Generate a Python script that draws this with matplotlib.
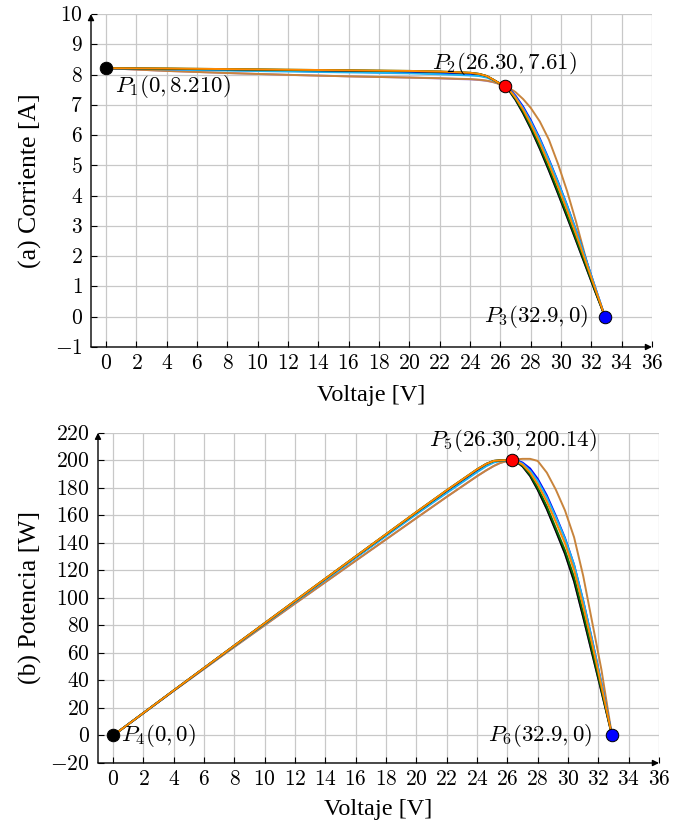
import matplotlib
matplotlib.use("Agg")
import matplotlib.pyplot as plt
from matplotlib.ticker import FuncFormatter

plt.rcParams['mathtext.fontset'] = 'cm'
plt.rcParams['font.family'] = ['Liberation Serif', 'DejaVu Serif']

# ---------------- data ----------------
voltage = [0, 4, 8, 12, 16, 20, 22, 24, 24.6, 25.1, 25.5, 25.8, 26.05, 26.3,
           26.6, 27.0, 27.5, 28.0, 28.6, 29.2, 29.8, 30.4, 31.0, 31.6, 32.2, 32.9]

# current curves [A]
i_purple = [8.21, 8.12, 8.05, 7.99, 7.94, 7.90, 7.87, 7.84, 7.82, 7.79, 7.75, 7.71, 7.66, 7.61,
            7.45, 7.16, 6.72, 6.22, 5.55, 4.83, 4.07, 3.29, 2.50, 1.70, 0.90, 0.0]
i_brown = [8.21, 8.12, 8.05, 7.99, 7.94, 7.90, 7.88, 7.85, 7.83, 7.80, 7.76, 7.71, 7.66, 7.61,
           7.55, 7.42, 7.19, 6.90, 6.45, 5.85, 5.05, 4.15, 3.12, 2.00, 0.92, 0.0]
i_blue = [8.21, 8.18, 8.15, 8.12, 8.09, 8.06, 8.03, 8.00, 7.97, 7.92, 7.83, 7.75, 7.68, 7.61,
          7.52, 7.30, 6.94, 6.50, 5.89, 5.20, 4.46, 3.68, 2.84, 1.96, 1.05, 0.0]
i_cyan = [8.21, 8.17, 8.13, 8.10, 8.07, 8.04, 8.01, 7.97, 7.95, 7.90, 7.82, 7.74, 7.68, 7.61,
          7.50, 7.26, 6.89, 6.45, 5.85, 5.17, 4.44, 3.67, 2.84, 1.96, 1.05, 0.0]
i_black = [8.21, 8.19, 8.17, 8.15, 8.13, 8.11, 8.09, 8.05, 8.02, 7.95, 7.84, 7.75, 7.68, 7.61,
           7.45, 7.16, 6.72, 6.22, 5.55, 4.83, 4.07, 3.29, 2.50, 1.70, 0.90, 0.0]
i_green = [8.21, 8.20, 8.18, 8.16, 8.14, 8.12, 8.10, 8.06, 8.02, 7.95, 7.84, 7.75, 7.68, 7.61,
           7.47, 7.19, 6.77, 6.28, 5.62, 4.91, 4.15, 3.37, 2.57, 1.76, 0.94, 0.0]
i_orange = [8.21, 8.20, 8.18, 8.16, 8.14, 8.12, 8.10, 8.06, 8.02, 7.95, 7.84, 7.75, 7.68, 7.61,
            7.49, 7.23, 6.84, 6.37, 5.74, 5.04, 4.30, 3.52, 2.71, 1.86, 1.00, 0.0]

# power curves [W]
p_purple = [0, 32.5, 64.4, 95.9, 127.0, 158.0, 173.4, 188.4, 192.6, 195.8, 197.9, 198.9, 199.5, 200.14,
            198.8, 195.5, 188.5, 178.5, 164.5, 148.5, 132.0, 112.0, 86.0, 59.0, 32.0, 0]
p_brown = [0, 32.5, 64.4, 95.9, 127.0, 158.0, 173.4, 188.4, 192.6, 195.8, 197.9, 198.9, 199.5, 200.14,
           200.6, 201.0, 201.0, 199.5, 191.0, 178.5, 163.5, 144.0, 116.0, 82.0, 48.0, 0]
p_blue = [0, 32.7, 65.2, 97.4, 129.4, 161.2, 176.7, 192.0, 196.1, 198.8, 199.7, 200.0, 200.1, 200.14,
          199.9, 198.3, 194.0, 186.5, 174.5, 159.5, 143.5, 124.0, 98.0, 69.0, 38.0, 0]
p_cyan = [0, 32.7, 65.0, 97.2, 129.1, 160.8, 176.2, 191.3, 195.6, 198.3, 199.4, 199.7, 200.1, 200.14,
          199.6, 197.5, 192.5, 185.0, 173.0, 158.5, 143.0, 124.0, 98.0, 69.0, 38.0, 0]
p_black = [0, 32.8, 65.4, 97.8, 130.1, 162.2, 178.0, 193.2, 197.3, 199.5, 199.9, 200.0, 200.1, 200.14,
           198.8, 195.5, 188.5, 178.5, 164.5, 148.5, 132.0, 112.0, 86.0, 59.0, 32.0, 0]
p_green = [0, 32.8, 65.4, 97.9, 130.2, 162.4, 178.2, 193.4, 197.3, 199.5, 199.9, 200.0, 200.1, 200.14,
           199.0, 196.0, 189.5, 180.0, 166.5, 150.5, 134.5, 115.0, 89.0, 61.5, 33.5, 0]
p_orange = [0, 32.8, 65.4, 97.9, 130.2, 162.4, 178.2, 193.4, 197.3, 199.5, 199.9, 200.0, 200.1, 200.14,
            199.3, 196.8, 191.0, 182.5, 170.0, 155.0, 139.5, 120.0, 94.0, 66.0, 36.0, 0]

colors = {'purple': '#a27bc9', 'brown': '#c8843c', 'blue': '#0000ff',
          'cyan': '#1eb4f0', 'black': '#000000', 'green': '#0b6e0b',
          'orange': '#ff8800'}

i_curves = [('purple', i_purple), ('brown', i_brown), ('blue', i_blue), ('cyan', i_cyan),
            ('black', i_black), ('green', i_green), ('orange', i_orange)]
p_curves = [('purple', p_purple), ('brown', p_brown), ('blue', p_blue), ('cyan', p_cyan),
            ('black', p_black), ('green', p_green), ('orange', p_orange)]

# key points
iv_points = [(0, 8.21, 'black'), (26.30, 7.61, 'red'), (32.9, 0, 'blue')]
pv_points = [(0, 0, 'black'), (26.30, 200.14, 'red'), (32.9, 0, 'blue')]

x_ticks = list(range(0, 37, 2))
i_ticks = list(range(-1, 11, 1))
p_ticks = list(range(-20, 221, 20))

# ---------------- figure ----------------
W, H = 678, 824
fig = plt.figure(figsize=(W / 100, H / 100), dpi=100)

ax1 = fig.add_axes([91 / W, 1 - 347 / H, (652 - 91) / W, (347 - 14) / H])
ax2 = fig.add_axes([98 / W, 1 - 763 / H, (659 - 98) / W, (763 - 432.7) / H])

fmt = FuncFormatter(lambda v, pos: r'$%g$' % v)


def style_axis(ax, xlim, ylim, yticks):
    ax.set_xlim(*xlim)
    ax.set_ylim(*ylim)
    ax.set_xticks(x_ticks)
    ax.set_yticks(yticks)
    ax.xaxis.set_major_formatter(fmt)
    ax.yaxis.set_major_formatter(fmt)
    ax.grid(True, color='#c8c8c8', linewidth=0.9)
    ax.set_axisbelow(True)
    for s in ['top', 'right', 'bottom', 'left']:
        ax.spines[s].set_visible(False)
    ax.tick_params(direction='in', length=4, width=0.8, labelsize=15.5, pad=6,
                   top=False, right=False)
    kw = dict(xycoords='axes fraction', textcoords='axes fraction',
              arrowprops=dict(arrowstyle='-|>', color='black', lw=1.0,
                              mutation_scale=9, shrinkA=0, shrinkB=0))
    ax.annotate('', xy=(1.0, 0), xytext=(0, 0), **kw)
    ax.annotate('', xy=(0, 1.0), xytext=(0, 0), **kw)


style_axis(ax1, (-1, 36), (-1, 10), i_ticks)
style_axis(ax2, (-1, 36), (-20, 220), p_ticks)

for name, vals in i_curves:
    ax1.plot(voltage, vals, color=colors[name], lw=1.4, zorder=3)
for name, vals in p_curves:
    ax2.plot(voltage, vals, color=colors[name], lw=1.4, zorder=3)

for (x, y, c) in iv_points:
    ax1.plot([x], [y], 'o', color=c, markeredgecolor='black', markeredgewidth=0.7,
             markersize=9, zorder=5, clip_on=False)
for (x, y, c) in pv_points:
    ax2.plot([x], [y], 'o', color=c, markeredgecolor='black', markeredgewidth=0.7,
             markersize=9, zorder=5, clip_on=False)

tfs = 16.5
ax1.text(0.55, 7.6, r'$P_1(0, 8.210)$', fontsize=tfs, ha='left', va='center', zorder=6)
ax1.text(26.3, 8.38, r'$P_2(26.30, 7.61)$', fontsize=tfs, ha='center', va='center', zorder=6)
ax1.text(31.8, 0.02, r'$P_3(32.9, 0)$', fontsize=tfs, ha='right', va='center', zorder=6)
ax2.text(0.5, 0, r'$P_4(0, 0)$', fontsize=tfs, ha='left', va='center', zorder=6)
ax2.text(26.4, 214.5, r'$P_5(26.30, 200.14)$', fontsize=tfs, ha='center', va='center', zorder=6)
ax2.text(31.6, 0, r'$P_6(32.9, 0)$', fontsize=tfs, ha='right', va='center', zorder=6)

lfs = 17.5
ax1.set_xlabel('Voltaje [V]', fontsize=lfs)
ax1.set_ylabel('(a) Corriente [A]', fontsize=18.5)
ax2.set_xlabel('Voltaje [V]', fontsize=lfs)
ax2.set_ylabel('(b) Potencia [W]', fontsize=18.5)
for ax, ylx, xly in [(ax1, (30 - 91) / 561, (347 - 395) / 333),
                     (ax2, (30 - 98) / 561, (763 - 810) / 330.3)]:
    ax.yaxis.label.set_va('center')
    ax.xaxis.label.set_va('center')
    ax.yaxis.set_label_coords(ylx, 0.5)
    ax.xaxis.set_label_coords(0.5, xly)

fig.savefig('out.png', dpi=100)
